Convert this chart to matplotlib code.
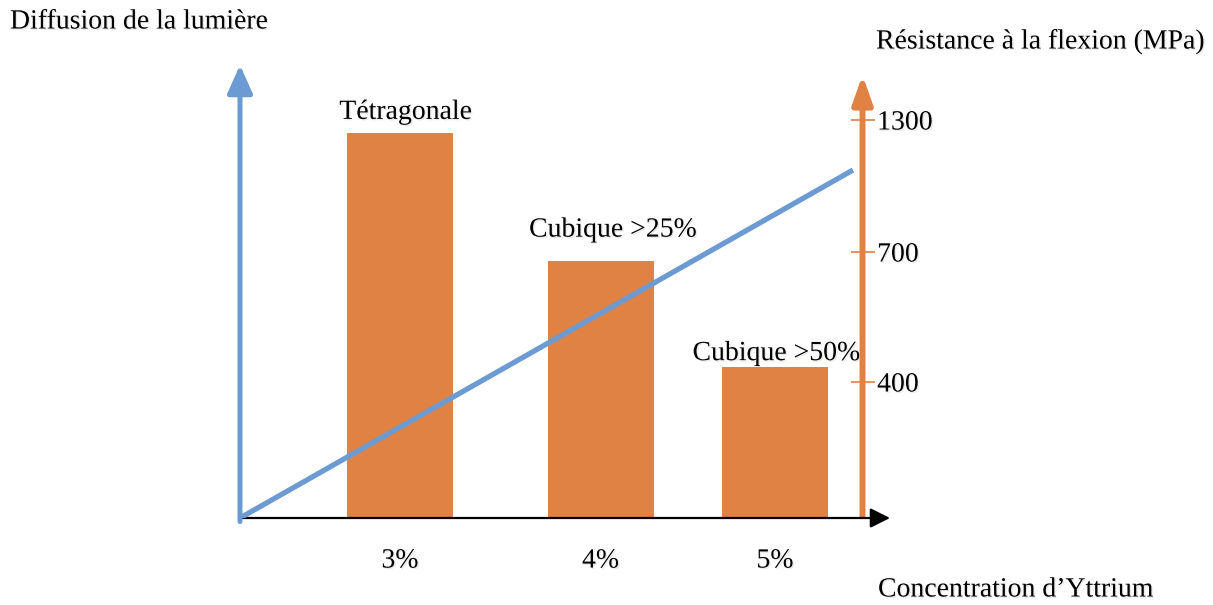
import numpy as np
import matplotlib
matplotlib.use("Agg")
import matplotlib.pyplot as plt
import matplotlib.patheffects as pe

# ---- data ----
categories = ["3%", "4%", "5%"]
resistance_mpa = [1240, 680, 435]
bar_labels = ["Tétragonale", "Cubique >25%", "Cubique >50%"]
diffusion_x = [0.0, 6.13]          # schematic line from origin to the right
diffusion_values = [0.0, 1.0]
mpa_ticks = [400, 700, 1300]

# ---- layout (not data) ----
cat_pos = [1.60, 3.605, 5.35]
bar_width = 1.06
label_offsets = [(4, 6), (9, 13), (1, 0.5)]   # points
x_right_axis = 6.225
# schematic (non-linear) MPa axis: knots in MPa -> pixel heights
knots_mpa = [0, 400, 700, 1300, 3000]
knots_px = [0, 136, 266, 398, 398 + 1700 * 132 / 600]

ORANGE = "#E08243"
BLUE = "#6B9BD2"
plt.rcParams["font.family"] = ["Liberation Serif", "DejaVu Serif"]
shadow = [pe.SimplePatchShadow(offset=(1.0, -1.0), shadow_rgbFace="0.6", alpha=0.2), pe.Normal()]

W, H = 1213, 605
fig = plt.figure(figsize=(W / 100, H / 100), dpi=100)
ax = fig.add_axes([240 / W, (H - 518) / H, 650 / W, 453 / H])
ax_d = ax.twinx()


def fwd(v):
    return np.interp(v, knots_mpa, knots_px)


def inv(p):
    return np.interp(p, knots_px, knots_mpa)


ax.set_yscale("function", functions=(fwd, inv))
ax.set_xlim(0, 6.5)
ax.set_ylim(0, inv(453))
for s in ax.spines.values():
    s.set_visible(False)

# bars
ax.bar(cat_pos, resistance_mpa, width=bar_width, color=ORANGE, zorder=2)
for x, v, lab, (dx, dy) in zip(cat_pos, resistance_mpa, bar_labels, label_offsets):
    ax.annotate(lab, xy=(x, v), xytext=(dx, dy), textcoords="offset points",
                ha="center", va="bottom", fontsize=20, path_effects=shadow)

# category labels
ax.set_xticks(cat_pos, categories)
ax.tick_params(axis="x", length=0, pad=22, labelsize=20)
for t in ax.get_xticklabels():
    t.set_path_effects(shadow)

# right orange axis ticks
ax.yaxis.tick_right()
ax.spines["right"].set_position(("data", x_right_axis))
ax.set_yticks(mpa_ticks, [str(t) for t in mpa_ticks])
ax.yaxis.set_minor_locator(matplotlib.ticker.NullLocator())
ax.tick_params(axis="y", which="both", left=False, labelleft=False, right=True, labelright=True,
               direction="inout", length=17, width=1.2, color=ORANGE, labelsize=20, pad=2)
for t in ax.get_yticklabels():
    t.set_path_effects(shadow)

# orange axis with arrow
ax.annotate("", xy=(x_right_axis, 1 - 10 / 453), xycoords=("data", "axes fraction"),
            xytext=(x_right_axis, 0.004), textcoords=("data", "axes fraction"),
            arrowprops=dict(arrowstyle="-|>,head_length=0.85,head_width=0.3",
                            mutation_scale=20, lw=4.3, color=ORANGE,
                            shrinkA=0, shrinkB=0), zorder=3)

# black x axis arrow
ax.annotate("", xy=(1.0, 0.0), xycoords="axes fraction",
            xytext=(0.0, 0.0), textcoords="axes fraction",
            arrowprops=dict(arrowstyle="-|>,head_length=0.6,head_width=0.3",
                            mutation_scale=20, lw=1.6, color="black",
                            shrinkA=0, shrinkB=0), zorder=4, annotation_clip=False)

# blue diffusion line on twin axis
ax_d.set_ylim(0, 453 / 348)
ax_d.set_xlim(0, 6.5)
ax_d.axis("off")
ax_d.plot(diffusion_x, diffusion_values, color=BLUE, lw=3.8, solid_capstyle="butt", zorder=5)
ax_d.annotate("", xy=(0.0, 1.0), xycoords="axes fraction",
              xytext=(0.0, -0.008), textcoords="axes fraction",
              arrowprops=dict(arrowstyle="-|>,head_length=0.85,head_width=0.38",
                              mutation_scale=20, lw=3.6, color=BLUE,
                              shrinkA=0, shrinkB=0), annotation_clip=False)

# axis titles
fig.text(10 / W, 1 - 22 / H, "Diffusion de la lumière", fontsize=20, ha="left", va="center",
         path_effects=shadow)
fig.text(876 / W, 1 - 42 / H, "Résistance à la flexion (MPa)", fontsize=20, ha="left", va="center",
         path_effects=shadow)
fig.text(878 / W, 1 - 590 / H, "Concentration d’Yttrium", fontsize=20, ha="left", va="center",
         path_effects=shadow)

fig.savefig("out.png", dpi=100)
